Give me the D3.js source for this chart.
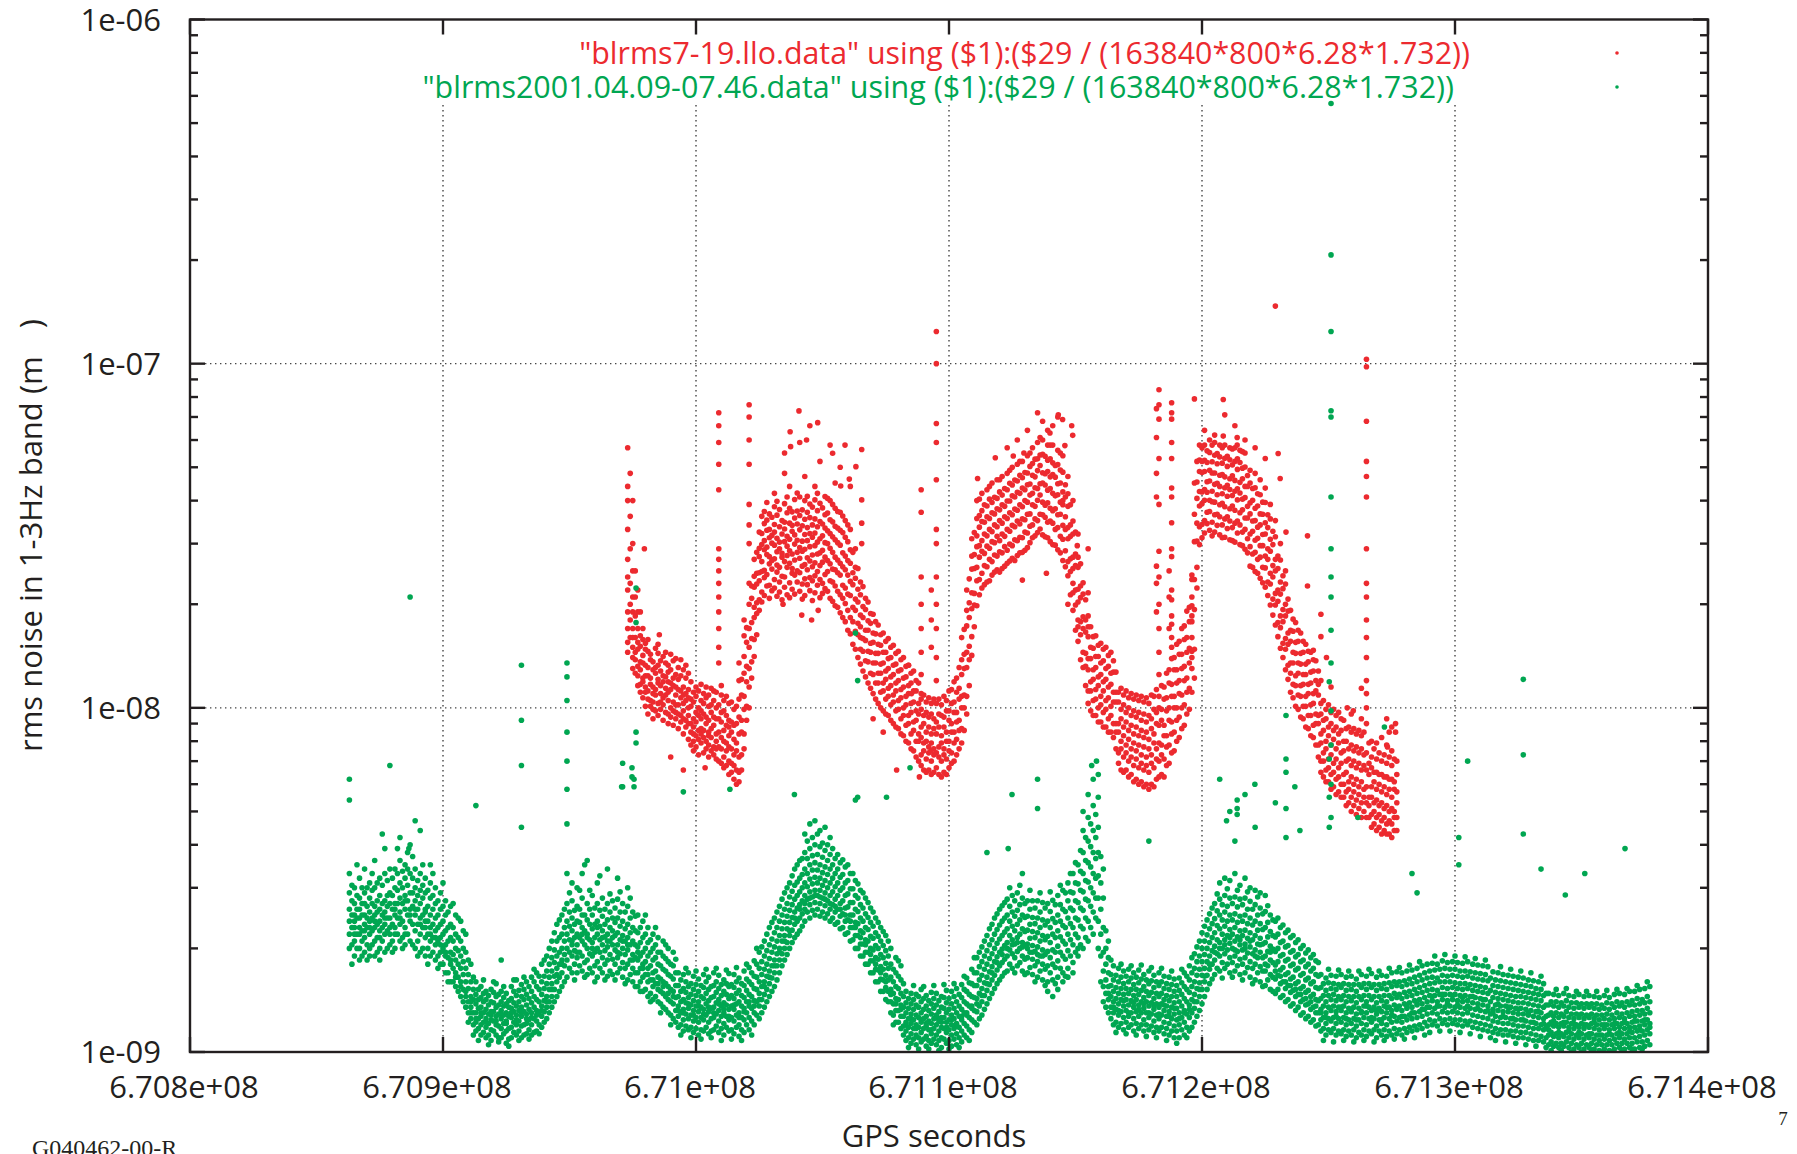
<!DOCTYPE html>
<html><head><meta charset="utf-8">
<script src="https://cdn.jsdelivr.net/npm/d3@7"></script>
<style>
html,body{margin:0;padding:0;background:#fff;}
svg{display:block;}
text{font-family:"Open Sans",sans-serif;fill:#231f20;}
</style></head><body>
<svg id="chart" width="1797" height="1154"></svg>
<script>
// ---------------- data ----------------
const xDomain = [670800000, 671400000];
const yDomain = [1e-9, 1e-6];
const xTickValues = [670800000, 670900000, 671000000, 671100000, 671200000, 671300000, 671400000];
const xTickLabels = ["6.708e+08", "6.709e+08", "6.71e+08", "6.711e+08", "6.712e+08", "6.713e+08", "6.714e+08"];
const xGridValues = [670900000, 671000000, 671100000, 671200000, 671300000];
const yTickValues = [1e-9, 1e-8, 1e-7, 1e-6];
const yTickLabels = ["1e-09", "1e-08", "1e-07", "1e-06"];
const yGridValues = [1e-8, 1e-7];
const seriesNames = [
  "\"blrms7-19.llo.data\" using ($1):($29 / (163840*800*6.28*1.732))",
  "\"blrms2001.04.09-07.46.data\" using ($1):($29 / (163840*800*6.28*1.732))"
];
const seriesColors = ["#ec2a2f", "#00a651"];
const xLabel = "GPS seconds";
const yLabel = "rms noise in 1-3Hz band (m";
const yLabelClose = ")";
const docId = "G040462-00-R";
const pageNo = "7";

// rows: [GPS time in kiloseconds, values in nanometres ...]
const redRows = [
[670973,57,44,40,33,27,24,22,19,17,15.5,14.5],
[670974,48,36,29,23,20,18,16],
[670975,40,30,25,21,19,17,16,15,14,13],
[670976,25,21,18.5,16,14.5,13.8,12.6],
[670977,22,19,17,15.5,14.8,13.2,12.4,11.6],
[670978,19,16.2,15.1,13.6,12.9,11.7,11.1],
[670979,17,15.8,14.2,13.5,12.2,11.9,10.7],
[670980,15.4,14.8,13.3,12.4,11.5,11.1,10.1],
[670981,9.6,10.6,11.2,12.4,13.1,14.6,15.8],
[670982,10.1,10.5,11.7,12.2,13.8,14.3],
[670983,9.3,9.9,11,11.5,12.9,13.6,10.4],
[670984,9.8,10.9,11.3,12.6,13.1,14.9],
[670985,9.5,10.3,11.8,12.1,13.3,14.4,15.3],
[670986,9.9,10.4,11,12.8,13.7,11.6],
[670987,9.2,10.2,10.7,11.9,12.4,14.1],
[670988,9.7,10.9,11.4,12.3,13.5,14.5],
[670989,9,9.6,10.5,11.1,12.7,13.3,11.9],
[670990,9.4,10,11.3,11.8,12.9,14.3],
[670991,8.9,9.8,10.4,11.6,12.2,13.7],
[670992,9.3,9.7,10.9,11.5,12.5,13.9,10.2],
[670993,8.7,9.6,10.2,11.3,12.1,13.1],
[670994,9.1,9.5,10.7,11.2,12.4,13.8],
[670995,8.4,9.3,9.8,10.9,11.5,12.9,10.3],
[670996,8.8,9.2,10.5,11,12.2,13.3],
[670997,8.1,9,9.5,10.7,11.3,12.6,10],
[670998,7.8,8.5,9,10.1,10.6,11.9],
[670999,7.5,8,8.8,9.3,10.4,11.1,8.4],
[671000,7.7,8.3,9.1,9.7,10.8,11.5],
[671001,7.3,8.1,8.6,9.5,10,11.2],
[671002,7.9,8.4,9.3,9.8,10.5,11.7,8.7],
[671003,7.4,8.2,8.6,9.6,10.3,11],
[671004,7.6,8,9,9.4,10.7,11.5],
[671005,7.2,7.8,8.5,9.2,10.1,10.9,8.3],
[671006,7.5,8.2,8.7,9.7,10.2,11.4],
[671007,7.3,7.7,8.9,9.4,10.5,11.2],
[671008,7.1,8,8.4,9.3,10,11.1,7.6],
[671009,72,66,59,51,43,29,27,25,23,21,19,17,15,13.5,7,7.7,8.5,9.3,10.2],
[671010,6.9,7.6,8.2,9.1,9.7,10.9,11.6],
[671011,6.7,7.2,8,8.6,9.8,10.5],
[671012,6.8,7.5,7.9,8.9,9.5,10.8],
[671013,6.4,7,7.7,8.3,9.2,10.3,8.8],
[671014,6.5,6.9,7.6,8.5,9.1,10.4],
[671015,6.2,6.8,7.3,8.1,8.9,9.9],
[671016,6,6.6,7.5,7.9,9,10.1],
[671017,6.1,6.5,7.2,8.4,9.4,10.6,12,13.5],
[671018,6.6,7.3,8.5,9.2,10.9,12.1],
[671019,7.6,8.4,9.9,10.8,12.6,14.1,16.2,18],
[671020,9.2,10.1,11.9,13.2,15.5,17.1],
[671021,76,70,60,51,39,34,30,23,20,17,15,13,11.5,10],
[671022,12.2,13.6,15.9,17.7,20.8,22.6],
[671023,14.1,15.8,18.3,19.6,22.4,24.1,27],
[671024,16.3,18.8,20.2,22.9,24.6,28.3],
[671025,19.2,20.6,23.4,24.7,27.5,29.1,32.4],
[671026,20.3,21.7,24.9,26.6,29.8,32.1,36],
[671027,21.2,23.9,25.1,28.8,30.6,34.3,37.2],
[671028,22.6,24.4,27.9,29.3,32.8,35.1,39.5],
[671029,20.8,22.7,26.2,27.5,31.2,33,36.6],
[671030,21.9,25.3,26.8,30.1,31.7,35.8],
[671031,22.3,23.6,27.1,29.7,32.4,34.1,38.4,42],
[671032,21.1,24.8,26,28.4,31.1,36.3,39.8],
[671033,21.7,23.2,25.6,29,30.3,33.6,37.7],
[671034,20.6,24.1,27.4,28.1,32,35],
[671035,22.4,24,26.6,30.4,33.1,34.6,39.2,55,48],
[671036,21.3,25.6,27.7,29.5,31.5,36.9,41],
[671037,20.9,23.1,26.3,28.6,30.9,34.4,38,44],
[671038,22.1,24.6,25.4,28,32.6,33.9,37.1],
[671039,21.4,24.3,26.9,29.9,31.8,35.6,40.3],
[671040,23.2,25,28.3,30.7,34.2,37.3,42.1],
[671041,21.8,24.7,27.2,29.2,32.9,36.2,41,59],
[671042,20.7,22.9,25.8,28.5,30.5,33.8,37.6],
[671043,21.2,23.7,26.1,28.9,31.9,35.3,40,47],
[671044,22.8,25.2,27.3,30.6,33.4,37,41.2],
[671045,21.9,23.9,26.7,29.4,32.1,35.7,39.1,66],
[671046,20.5,23.4,25.7,27.8,31.3,34,38.3],
[671047,21.6,24.2,26.4,29.6,32.2,35.4,40.2,44],
[671048,22.7,24.9,28,30.3,33.6,37.4,42],
[671049,20.9,23.6,25.9,28.2,31,34.8,39.3,52],
[671050,21.5,23,26.5,28.7,31.6,34.2,38.1],
[671051,22.2,24.4,27.4,30.2,33.3,36.4,41.1],
[671052,21.8,24.9,26.8,30,32.7,36.8,40.6],
[671053,20.8,23.4,26.2,29.1,32.1,35.2,40,58],
[671054,20.4,23.2,25.3,28.3,31.4,34.7,39],
[671055,19.8,22.6,25.2,27.4,30.8,33.7,38,45],
[671056,19.6,21.8,24.7,26.9,30.2,33.3,37.2],
[671057,18.9,21.3,24.3,26.3,29.7,32.8,37,50],
[671058,18.3,20.8,22.7,25.7,28.2,32.3,36.1],
[671059,17.8,20.1,22.3,25.2,27.6,31.3,35],
[671060,16.8,19.2,21.4,24.3,26.8,30.4,34],
[671061,16.4,18.3,21.2,23.3,26.3,28.8,33,44],
[671062,15.3,17.8,19.6,22.8,24.7,28.3],
[671063,14.8,16.7,19.2,20.7,23.8,25.6,29],
[671064,14,16.3,17.6,20.3,22.1,25.4],
[671065,13.4,14.8,17.2,18.6,21.3,23.2,16],
[671066,12.8,14.6,15.9,18.3,19.7,22.5],
[671067,12.3,13.7,15.7,16.8,19.3,20.8],
[671068,11.8,13.6,14.6,16.8,17.9,20.3],
[671069,11.4,12.6,14.5,15.4,17.6,18.8],
[671070,11,12.5,13.5,15.5,16.5,18.7],
[671071,10.6,11.8,13.5,14.4,16.4,17.8],
[671072,10.3,11.8,12.6,14.4,15.3,17.4],
[671073,10,11.1,12.6,13.4,15.2,16.3],
[671074,9.8,11.2,11.8,13.5,14.5,16.5],
[671075,9.6,10.6,12.1,12.8,14.5,15.6],
[671076,9.5,10.8,11.4,13,13.9,15.9],
[671077,9.2,10.2,11.6,12.3,14,15],
[671078,9,10.4,10.9,12.5,13.3,15.2],
[671079,8.8,9.8,11.2,11.8,13.4,14.4],
[671080,8.7,9.9,10.5,12,12.8,14.6],
[671081,8.4,9.3,10.7,11.3,12.9,13.8],
[671082,8.3,9.5,10,11.5,12.2,14],
[671083,8,8.9,10.2,10.8,12.3,13.2],
[671084,7.9,9,9.5,11,11.6,13.3],
[671085,7.6,8.4,9.7,10.3,11.8,12.6],
[671086,7.5,8.6,9.1,10.4,11.2,12.8],
[671087,7.2,8,9.2,9.8,11.2,12],
[671088,7,8,8.4,9.6,10.3,11.8],
[671089,6.8,7.3,8.2,8.8,9.9,10.6,43,37,24,20,17,14.5,12.5,11],
[671090,6.6,7.5,7.9,9,9.5,10.9],
[671091,6.5,7.1,8,8.5,9.7,10.4],
[671092,6.6,7.4,7.7,8.8,9.4,10.7],
[671093,6.4,7,7.9,8.4,9.6,10.3,22,18,15],
[671094,6.5,7.3,7.6,8.7,9.3,10.6],
[671095,124,100,67,59,46,33,30,24,20,17,14,12,6.7,7.4,8.4,9.1,10.3],
[671096,6.4,7.2,7.7,8.8,9.6,10.6],
[671097,6.3,7,7.9,8.3,9.5,10.2],
[671098,6.5,7.3,7.6,8.8,9.4,10.8],
[671099,6.4,7.1,8,8.5,9.8,10.5],
[671100,6.7,7.5,8,9.2,9.8,11.2],
[671101,6.9,7.4,8.5,9,10.3,11.3],
[671102,7,7.9,8.5,9.7,10.4,11.9],
[671103,7.3,8.1,9.1,9.7,11.1,12.2],
[671104,7.6,8.6,9.2,10.6,11.4,13.1],
[671105,7.9,8.7,10,10.8,12.5,13.8,16],
[671106,8.6,10,10.9,13,14.3,16.9],
[671107,9.6,10.8,13.1,14.5,17.3,19.2,22],
[671108,11.6,13.8,15.1,18.3,20.2,23.7],
[671109,14.2,16.1,19.4,21.6,25.3,27.6,31],
[671110,17.2,19.9,21.5,25.4,27.9,32.3],
[671111,19.8,23.4,25.6,29.4,31.6,35.5,40],
[671112,21.3,23.6,27.4,29.6,33.5,36.2,40.4],
[671113,22.3,24.6,28.5,30.6,34.8,37.4,42],
[671114,22.8,25.9,28.1,32,34.6,38.9],
[671115,23.2,25.7,29.5,31.6,35.9,38.6,43],
[671116,23.4,27,29.1,33,35.5,40.4,44],
[671117,24.3,26.6,30.4,32.5,36.9,39.5,45],
[671118,24.8,27.8,30.2,34,36.6,40.9],
[671119,25.2,27.6,31.5,33.6,37.9,40.6,46],
[671120,24.8,28.4,30.6,35,37.6,42.4,46],
[671121,25.4,28.2,32,34.4,38.9,41.5,47],
[671122,25.8,29.4,31.5,35.9,38.5,43.4],
[671123,26.3,28.7,33,35.5,39.9,43,48,57],
[671124,26.7,29.9,32.6,36.9,39.9,44.9,49],
[671125,27.2,29.6,33.9,36.4,41.3,44.4,50],
[671126,26.8,30.8,33.6,37.8,41,45.9],
[671127,27.7,30.6,34.9,37.5,42.3,45.6,51,60],
[671128,28.2,31.3,34.2,38.9,42,47.4,52],
[671129,28.3,31.2,35.4,38.4,43.5,46.6,52],
[671130,28.7,32.4,35.2,40,43,48.3],
[671131,29.2,32.2,36.5,39.6,44.5,48.1,54,64],
[671132,30.2,33.7,36.6,41.5,44.7,50.3,55],
[671133,31.2,34,38.9,42,47.4,51.3,57],
[671134,31.6,35.4,38.5,43.6,46.9,52.8],
[671135,32.3,35,40.1,43.4,48.9,52.9,59,72],
[671136,33.1,36.5,41.5,44.8,50.6,54.3,61],
[671137,31.8,36.4,39.6,45,48.2,54.5,60,68],
[671138,31.4,35.8,38.8,44.4,47.9,53.8],
[671139,31.2,34.6,39.4,42.9,48.6,52.4,58,64],
[671140,30.4,34.9,38,43.4,46.9,52.9,58],
[671141,29.8,34.4,37.4,42,47.6,51.5,58,66],
[671142,29.7,33,37.9,41.3,46.8,50.6],
[671143,28.8,33.4,36.4,41.6,44.8,50.9,56,70],
[671144,28.2,31.5,36.5,39.6,45,49.1,55],
[671145,26.8,30.9,33.9,38.9,42.4,48.4,54,40],
[671146,25.7,28.6,33,35.9,41,44.5],
[671147,24.2,26.6,31,33.4,38.5,41.9,47,20],
[671148,21.3,24.9,27.1,31.5,34,38.9],
[671149,19.2,21.6,25.4,27.4,32,34.9,40,23],
[671150,16.8,19.9,22,25.9,28,32.4],
[671151,15.6,17.2,20.3,22.1,25.6,27.4,32,18],
[671152,13.8,16.3,17.8,20.9,22.6,26.2],
[671153,13.1,14.5,17,18.4,21.4,23.1],
[671154,11.6,13.2,14.4,16.6,18,20.6],
[671155,10.3,11.2,12.9,13.9,16.1,17.2],
[671156,9.8,11.2,11.9,13.9,15,17.2],
[671157,9.5,10.5,12.1,12.9,14.9,16.1],
[671158,9.5,10.6,11.3,13.1,14.1,16.2],
[671159,9.1,10,11.6,12.3,14.1,15.2],
[671160,9.1,10.2,10.8,12.5,13.5,15.4],
[671161,8.8,9.7,11.2,11.9,13.7,14.8],
[671162,8.8,9.9,10.5,12.1,13,15],
[671163,8.5,9.3,10.7,11.5,13.2,14.2],
[671164,8.5,9.5,10.1,11.7,12.6,14.5],
[671165,8.2,9,10.4,11.1,12.7,13.7],
[671166,7.6,8.5,9,10.4,11.1,12.7],
[671167,6.9,7.4,8.5,9,10.4,11.1],
[671168,6.6,7.6,8,9.3,9.9,11.4],
[671169,6.5,7.2,8.3,8.8,10.2,10.9],
[671170,6.6,7.4,7.8,9.1,9.7,11.2],
[671171,6.3,7,8.1,8.6,10,10.7],
[671172,6.4,7.2,7.6,8.9,9.5,11],
[671173,6.1,6.8,7.9,8.4,9.8,10.6],
[671174,6.2,7.1,7.5,8.8,9.4,10.9],
[671175,6,6.7,7.8,8.3,9.7,10.5],
[671176,6.1,6.9,7.3,8.6,9.2,10.8],
[671177,5.9,6.6,7.7,8.2,9.6,10.4],
[671178,6,6.8,7.2,8.5,9.1,10.7],
[671179,5.8,6.5,7.6,8.1,9.5,10.3],
[671180,6,6.9,7.3,8.7,9.3,10.9],
[671181,5.9,6.7,7.9,8.4,9.9,10.8],
[671182,6.2,7.1,7.6,9,9.7,11.3,74,61,48,41,25.8,23,19],
[671183,84,76,69,53,39,28.5,24,20,17,14.5,12.5,10.8,6.3,7,7.9,8.9,10],
[671184,6.4,7.3,7.8,9.2,9.9,11.6],
[671185,6.3,7.1,8.3,8.9,10.6,11.5],
[671186,6.8,7.7,8.3,9.8,10.7,12.6],
[671187,6.9,7.8,9.2,10,11.8,12.9,17,21,25],
[671188,7.4,8.4,9.1,10.8,11.7,13.9,77,72,69,59,53,43.5,41,34.5,29,27.5,22,20.6,18.5,17.5,16,15],
[671189,7.5,8.5,10,10.8,12.9,14],
[671190,8,9.2,10,11.8,12.9,15.3],
[671191,8.2,9.4,11,12,14.3,15.6],
[671192,8.7,10,10.9,13,14.3,17],
[671193,8.9,10.2,12,13.2,15.8,17.3],
[671194,9.6,11.1,12.2,14.5,16,19.1],
[671195,9.9,11.4,13.5,14.9,17.8,19.6],
[671196,11.1,13,14.6,17.8,19.8,24.3,23.6,21,18.5,16,14],
[671197,12.2,14.8,19.3,23.6,30.4,36.5,45,79],
[671198,22.3,25.6,30.5,34.4,40.6,45.3,52],
[671199,29.8,33.6,38.6,42.5,48.6,52.5,58],
[671200,31.2,34.1,39.2,42.4,48.3,52,57],
[671201,32.2,35,40.1,43.1,48.6,52.4,58,64],
[671202,34.3,37,42.3,45.4,51.6,55.8],
[671203,32.8,37.2,40.1,45.6,49,55.2,60],
[671204,31.6,34.6,39.7,42.6,48.1,51.9,58],
[671205,32.4,36.4,39.6,44.6,48.1,54.2,59,62],
[671206,33.9,36.5,41.6,44.9,51.2,54.8],
[671207,31.8,35.9,38.9,44,47.4,53.6,58],
[671208,31.2,34,39.3,41.9,47.6,51.4,57],
[671209,31.3,35.4,38.4,43.6,46.9,53.1,58,71],
[671210,33.2,35.9,41.2,44.3,50.3,53.8],
[671211,30.8,34.9,37.9,43.1,46.3,52.6,57],
[671212,30.6,33.4,38.6,41.4,47.2,50.8,56.5],
[671213,30.3,34.4,37.5,42.6,45.8,52,57,66],
[671214,32.2,34.9,40.2,43.3,49.3,52.9],
[671215,29.8,34,36.9,42.1,45.2,51.6,56],
[671216,29.6,32.4,37.6,40.4,46.3,49.7,55.5],
[671217,28.9,33,35.6,40.8,44,50.1,55,60],
[671218,28.2,31,35.6,38.5,44,47.3],
[671219,25.8,29.4,32,36.6,39.4,45,49],
[671220,25.6,28,32.6,34.9,40.1,43.4],
[671221,24.9,28.3,30.7,35,38,43.6,48,57],
[671222,24.6,27,31.1,33.5,38.6,41.9],
[671223,23.8,27.4,29.6,34,36.6,41.6,46],
[671224,23.1,25.6,29.6,31.9,36.5,39.6],
[671225,22.4,25.5,27.6,32,34.5,39.5,43.5,53],
[671226,21.2,23.2,27,29,33.4,36.4],
[671227,19.9,22.9,24.6,28.5,30.9,35.4,39],
[671228,18.6,20.7,24,25.9,29.8,32.6],
[671229,17.4,19.9,21.5,25,27,31.4,35,147],
[671230,16.1,17.7,20.4,22,25.4,27.6],
[671231,14.9,17.1,18.5,21.4,23.2,26.9,30],
[671232,14,15.4,17.8,19.3,22.2,24.2],
[671233,12.9,14.8,15.9,18.5,20,22.9,25],
[671234,12.1,13.3,15.3,16.5,19.1,20.7],
[671235,11.1,12.6,13.5,15.6,16.8,19.2],
[671236,10.7,11.7,13.5,14.5,16.7,18.1],
[671237,10.1,11.6,12.4,14.4,15.5,17.7],
[671238,9.9,10.9,12.6,13.5,15.6,16.8],
[671239,9.4,10.8,11.6,13.4,14.4,16.5],
[671240,9.3,10.1,11.7,12.5,14.5,15.6],
[671241,8.8,10.1,10.8,12.5,13.4,15.3],
[671242,8.7,9.5,11,11.7,13.6,14.6],
[671243,8.3,9.5,10.2,11.8,12.7,14.5],
[671244,8.2,8.9,10.3,11,12.8,13.8],
[671245,7.8,9,9.6,11.2,12,13.7],
[671246,7.2,7.8,9,9.5,10.9,11.7],
[671247,6.5,7,7.9,8.4,9.6,10.3,12],
[671248,6.3,7,7.4,8.6,9.2,10.5],
[671249,6.1,6.6,7.6,8,9.3,9.9],
[671250,6.1,6.7,7.1,8.3,8.8,10.2],
[671251,5.8,6.4,7.3,7.8,9,9.7,11.5],
[671252,5.9,6.5,6.9,8.1,8.6,9.9],
[671253,5.6,6.2,7.1,7.6,8.8,9.5],
[671254,5.7,6.3,6.7,7.9,8.4,9.7],
[671255,5.5,6,6.9,7.4,8.6,9.3],
[671256,5.5,6,6.4,7.5,8,9.2],
[671257,5.2,5.7,6.5,7,8,8.7],
[671258,5.3,5.8,6.1,7.1,7.6,8.8],
[671259,5,5.5,6.3,6.8,7.8,8.5,9.6],
[671260,5.2,5.7,6,7,7.5,8.7],
[671261,4.9,5.4,6.2,6.7,7.7,8.4],
[671262,5.1,5.6,5.9,6.9,7.4,8.6],
[671263,4.8,5.3,6.1,6.6,7.6,8.3,9.3],
[671264,5,5.5,5.8,6.8,7.3,8.5],
[671265,103,98,68,52,47,41,29,23,21,18,16,14,12,10,9,4.8,5.3,5.9,6.6,7.4],
[671266,4.8,5.2,5.5,6.4,6.9,7.9],
[671267,4.5,4.9,5.5,5.9,6.7,7.2,8],
[671268,4.6,5,5.3,6.1,6.5,7.6],
[671269,4.4,4.8,5.4,5.8,6.5,7.1,7.9],
[671270,4.5,4.9,5.2,6,6.4,7.4],
[671271,4.3,4.7,5.3,5.7,6.4,7,8.2],
[671272,4.4,4.8,5.1,5.9,6.3,7.3],
[671273,4.3,4.6,5.2,5.6,6.3,6.9,7.8,9.3],
[671274,4.3,4.7,5,5.8,6.2,7.2,8.5],
[671275,4.2,4.6,5.1,5.5,6.2,6.8,7.5,8.8],
[671276,4.4,4.8,5,5.8,6.1,7.1],
[671277,4.4,4.8,5.3,5.7,6.4,7]
];
// isolated red points: [kiloseconds, nm]
const redScatter = [
[671040.7,72.9],[671048.1,67.4],[671037.2,63.4],[671037.4,57.4],[671043.7,60],[671054,54.9],[671058.9,58],
[671065.5,56.3],[671063.2,50.2],[671060.6,46.2],[671057.2,44.1],[671065.5,40.2],[671065.5,34.4],[671065.5,30],
[671045.7,18],[671034.4,20],[671041.8,18.6],[671048.3,19.2],[670985.5,16.3],[670979.6,29],[670990,7.2],
[670995,6.6],[671003.6,6.7],[671079.3,6.6],[671084,13.3],[671085.2,11],[671088.3,6.3],[671092.9,7.5],
[671070,9.3],[671074,8.5],[671143.2,71],[671144.9,68.8],[671148.5,66],[671148.9,61.9],[671145.8,57.8],
[671139.9,62.9],[671129.6,55],[671118.3,53.3],[671111.3,46.4],[671125.4,53.9],[671155,29],[671155,21.6],
[671155,18.5],[671138.5,24.6],[671129,23.5],[671150.7,29.6],[671208.4,78.7],[671208.4,61.6],[671213.9,61],
[671213.9,58],[671230.1,54.8],[671230.9,46.4],[671233.2,32.4],[671241.7,31.6],[671241.7,22.6],[671247,18.7],
[671247,16.1],[671244,14.7],[671249.2,14],[671246,12.8],[671257.4,10],[671259.8,9.8],[671263,11.4],
[671265,11],[671276.5,9],[671276.5,8.5],[671273.3,7.7]
];

const greenRowsOdd = [
[670863,2,2.2,2.4,2.6,2.9,3.3,6.2,5.4],
[670865,1.9,2.1,2.3,2.5,2.7,3,2.2,2.4],
[670867,2,2.2,2.3,2.6,2.8,3.2,1.85,2.45],
[670869,1.95,2.15,2.35,2.5,2.7,2.9,3.4,2.25],
[670871,2,2.2,2.4,2.55,2.8,3.1,1.9,2.3],
[670873,1.9,2.1,2.3,2.5,2.65,3,3.6,2.4],
[670875,2,2.25,2.4,2.6,2.85,3.2,2.15,1.85],
[670877,1.95,2.2,2.35,2.55,2.75,3.3,2.45,3.9],
[670879,2.05,2.3,2.45,2.7,2.9,3.4,2.2,6.8],
[670881,2,2.3,2.5,2.7,3,3.4,2.2,2.6],
[670883,2.1,2.35,2.55,2.8,3.1,3.6,4.2,2.45],
[670885,2.05,2.3,2.6,2.85,3.2,3.5,2.2,2.75],
[670887,2.1,2.4,2.6,2.9,3.3,4,21,2.5],
[670889,2,2.25,2.5,2.75,3,3.4,4.7,2.6],
[670891,1.95,2.2,2.45,2.7,2.95,3.3,2.35,4.4],
[670893,1.9,2.15,2.4,2.6,2.9,3.2,2.3,2.55],
[670895,1.9,2.1,2.3,2.5,2.8,3.1,2.2,3.5],
[670897,1.85,2.05,2.25,2.45,2.7,3,2.15],
[670899,1.8,1.95,2.15,2.35,2.6,2.9,2.05],
[670901,1.7,1.9,2.05,2.25,2.5,2.75,1.95],
[670903,1.6,1.8,1.95,2.15,2.35,2.65,1.85],
[670905,1.55,1.7,1.85,2,2.2,2.5,1.65],
[670907,1.45,1.6,1.75,1.9,2.1,2.4,1.55],
[670909,1.35,1.45,1.6,1.75,1.95,2.2,1.5],
[670911,1.25,1.35,1.45,1.6,1.8,1.4,1.3],
[670913,1.15,1.22,1.3,1.38,1.47,1.6,5.2,1.25],
[670915,1.12,1.2,1.27,1.35,1.44,1.55,1.3],
[670917,1.1,1.18,1.25,1.33,1.42,1.5,1.22],
[670919,1.08,1.16,1.24,1.31,1.4,1.52,1.28],
[670921,1.12,1.2,1.27,1.35,1.45,1.58,1.23],
[670923,1.1,1.17,1.25,1.32,1.4,1.5,1.85,1.29],
[670925,1.06,1.15,1.23,1.3,1.38,1.48,1.21],
[670927,1.1,1.18,1.26,1.34,1.43,1.55,1.3],
[670929,1.12,1.2,1.28,1.36,1.46,1.62,1.24],
[670931,1.1,1.19,1.27,1.35,1.45,1.57,13.3,9.2,6.8,4.5,1.3],
[670933,1.13,1.21,1.29,1.37,1.47,1.6,1.25],
[670935,1.12,1.2,1.3,1.39,1.5,1.65,1.26],
[670937,1.15,1.23,1.32,1.42,1.55,1.7,1.28],
[670939,1.18,1.27,1.36,1.47,1.6,1.8,1.32],
[670941,1.25,1.35,1.45,1.58,1.72,1.9,1.4],
[670943,1.35,1.45,1.58,1.72,1.88,2.1,1.52],
[670945,1.45,1.6,1.75,1.9,2.1,2.35,1.68],
[670947,1.55,1.7,1.85,2,2.2,2.5,1.8],
[670949,1.65,1.85,2,2.2,2.4,2.7,13.5,12.3,10.5,8.5,7,5.8,4.6,3.3],
[670951,1.7,1.9,2.05,2.25,2.45,2.75,3.1,2.1],
[670953,1.7,1.88,2.05,2.2,2.4,2.65,3,1.95],
[670955,1.72,1.9,2.1,2.3,2.5,2.8,3.3,2.2],
[670957,1.68,1.85,2,2.2,2.42,2.7,2.15,3.6],
[670959,1.7,1.9,2.08,2.28,2.5,2.85,2],
[670961,1.65,1.83,2,2.2,2.4,2.7,3.1,2.3],
[670963,1.7,1.88,2.05,2.25,2.48,2.8,2.15],
[670965,1.66,1.85,2.02,2.2,2.42,2.7,3.4,2.1],
[670967,1.68,1.86,2.05,2.25,2.45,2.75,2.15],
[670969,1.7,1.88,2.05,2.22,2.45,2.78,3.2,1.95],
[670971,1.65,1.82,2,2.18,2.4,2.7,6.9,5.9,2.1],
[670973,1.62,1.8,1.98,2.15,2.35,2.65,3,2.05],
[670975,1.6,1.75,1.92,2.1,2.3,2.55,1.85],
[670977,1.55,1.7,1.85,2.02,2.22,2.5,1.95],
[670979,1.5,1.65,1.8,1.95,2.15,2.4,1.75],
[670981,1.45,1.6,1.75,1.9,2.08,2.3,1.68],
[670983,1.42,1.55,1.7,1.85,2,2.2,1.62],
[670985,1.4,1.52,1.65,1.8,1.95,2.15,1.58],
[670987,1.35,1.48,1.6,1.74,1.9,2.1,1.55],
[670989,1.3,1.42,1.55,1.68,1.83,2,1.48],
[670991,1.25,1.38,1.5,1.63,1.78,1.95,1.45],
[670993,1.18,1.27,1.36,1.45,1.56,1.7,1.32],
[670995,1.15,1.24,1.33,1.42,1.53,1.68,5.7,1.3],
[670997,1.16,1.25,1.34,1.44,1.55,1.7,1.38],
[670999,1.14,1.23,1.32,1.41,1.52,1.66,1.28],
[671001,1.12,1.22,1.31,1.4,1.5,1.63,1.36],
[671003,1.15,1.24,1.33,1.43,1.54,1.68,1.29],
[671005,1.13,1.22,1.31,1.41,1.52,1.65,1.35],
[671007,1.16,1.26,1.35,1.45,1.56,1.7,1.3],
[671009,1.14,1.23,1.32,1.42,1.53,1.67,1.38],
[671011,1.12,1.21,1.3,1.39,1.5,1.62,1.33],
[671013,1.15,1.24,1.33,1.43,1.55,1.69,1.27],
[671015,1.13,1.23,1.33,1.43,1.54,1.68,1.37],
[671017,1.11,1.2,1.3,1.4,1.51,1.64,1.26],
[671019,1.14,1.24,1.34,1.44,1.56,1.72,1.31],
[671021,1.16,1.26,1.36,1.47,1.6,1.76,1.4],
[671023,1.2,1.3,1.41,1.53,1.66,1.84,1.36],
[671025,1.25,1.36,1.48,1.6,1.75,1.95,1.42],
[671027,1.35,1.47,1.6,1.74,1.9,2.1,1.55],
[671029,1.45,1.58,1.72,1.87,2.05,2.3,1.65],
[671031,1.55,1.7,1.85,2.02,2.22,2.45,1.78],
[671033,1.7,1.85,2,2.18,2.4,2.65,1.95],
[671035,1.85,2,2.18,2.38,2.6,2.9,2.1],
[671037,2,2.18,2.38,2.58,2.82,3.1,2.25],
[671039,2.15,2.35,2.55,2.78,3.05,3.4,2.45],
[671041,2.25,2.45,2.68,2.92,3.2,3.6,2.6],
[671043,2.4,2.6,2.85,3.1,3.4,3.8,2.7,4.3],
[671045,2.45,2.68,2.92,3.18,3.5,3.9,2.8,4.6],
[671047,2.5,2.72,2.95,3.22,3.55,4,2.85,4.7],
[671049,2.48,2.7,2.95,3.2,3.5,3.95,2.82,4.4],
[671051,2.45,2.66,2.9,3.15,3.45,3.85,2.78,4.5],
[671053,2.4,2.6,2.85,3.1,3.4,3.75,2.7,4.2],
[671055,2.35,2.55,2.78,3.02,3.3,3.65,2.65],
[671057,2.28,2.48,2.7,2.95,3.22,3.55,2.6],
[671059,2.2,2.4,2.62,2.85,3.1,3.45,2.5],
[671061,2.1,2.3,2.5,2.72,2.98,3.3,2.4],
[671063,2,2.18,2.38,2.6,2.85,3.15,16.5,5.4,2.3],
[671065,1.9,2.06,2.25,2.45,2.68,2.95,2.15],
[671067,1.8,1.95,2.12,2.3,2.52,2.8,2.05],
[671069,1.7,1.84,2,2.17,2.38,2.62,1.92],
[671071,1.6,1.74,1.88,2.04,2.22,2.45,1.8],
[671073,1.5,1.63,1.77,1.92,2.1,2.3,1.7],
[671075,1.42,1.54,1.67,1.81,1.97,2.18,1.6],
[671077,1.3,1.4,1.52,1.65,1.8,2,1.47],
[671079,1.22,1.32,1.43,1.55,1.7,1.88,1.38],
[671081,1.17,1.27,1.37,1.48,1.62,1.78,1.33],
[671083,1.08,1.15,1.22,1.3,1.39,1.5,1.2],
[671085,1.06,1.13,1.21,1.29,1.38,1.48,1.25],
[671087,1.05,1.12,1.2,1.28,1.37,1.47,1.17],
[671089,1.07,1.14,1.22,1.3,1.4,1.52,1.24],
[671091,1.04,1.11,1.19,1.27,1.36,1.46,1.21],
[671093,1.06,1.13,1.21,1.29,1.38,1.49,1.16],
[671095,1.05,1.12,1.2,1.28,1.37,1.48,1.26],
[671097,1.03,1.1,1.18,1.26,1.35,1.45,1.22],
[671099,1.06,1.14,1.22,1.3,1.39,1.51,1.18],
[671101,1.04,1.12,1.2,1.28,1.38,1.5,1.24],
[671103,1.05,1.13,1.21,1.3,1.4,1.53,1.19],
[671105,1.07,1.15,1.24,1.33,1.44,1.57,1.27],
[671107,1.1,1.19,1.28,1.38,1.5,1.64,1.3],
[671109,1.14,1.24,1.34,1.45,1.58,1.74,1.36],
[671111,1.2,1.31,1.43,1.56,1.7,1.88,1.38],
[671113,1.28,1.4,1.53,1.67,1.83,2.02,1.46],
[671115,1.38,1.51,1.65,1.8,1.97,2.18,3.8,1.58],
[671117,1.48,1.62,1.77,1.93,2.12,2.35,1.7],
[671119,1.58,1.73,1.89,2.07,2.27,2.52,1.82],
[671121,1.66,1.82,1.99,2.18,2.4,2.66,1.92],
[671123,1.72,1.9,2.08,2.28,2.5,2.78,2],
[671125,1.75,1.93,2.12,2.32,2.55,2.85,2.05],
[671127,1.78,1.96,2.15,2.35,2.58,2.9,2.08],
[671129,1.72,1.9,2.08,2.28,2.5,2.8,2.02,3.3],
[671131,1.7,1.88,2.06,2.26,2.48,2.75,2],
[671133,1.68,1.86,2.04,2.24,2.46,2.75,1.95],
[671135,1.65,1.83,2.02,2.22,2.45,2.75,1.92,6.2,5.1],
[671137,1.62,1.8,1.98,2.18,2.42,2.72,1.9],
[671139,1.6,1.78,1.96,2.17,2.4,2.7,1.5],
[671141,1.62,1.8,1.98,2.2,2.44,2.76,1.45],
[671143,1.65,1.84,2.03,2.25,2.5,2.85,1.52],
[671145,1.7,1.9,2.1,2.33,2.6,2.95,1.6],
[671147,1.75,1.97,2.2,2.45,2.75,3.1,1.65],
[671149,1.82,2.05,2.3,2.58,2.9,3.3,1.7],
[671151,1.9,2.15,2.42,2.72,3.08,3.5,2],
[671153,2,2.28,2.58,2.92,3.3,3.8,4.4],
[671155,2.1,2.4,2.75,3.12,3.55,4.1,4.8,5.6],
[671157,2.2,2.55,2.9,3.3,3.8,4.4,5.2,6.2],
[671159,2,2.4,2.8,3.25,3.8,4.5,5.5,6.4],
[671161,1.4,1.55,1.72,1.95,2.3,2.8,3.4],
[671163,1.3,1.42,1.55,1.7,1.88,2.1,1.48],
[671165,1.2,1.3,1.4,1.5,1.62,1.78,1.35],
[671167,1.18,1.28,1.38,1.48,1.6,1.75,1.32],
[671169,1.16,1.26,1.36,1.47,1.58,1.72,1.41],
[671171,1.18,1.27,1.37,1.48,1.6,1.74,1.3],
[671173,1.15,1.25,1.35,1.46,1.57,1.7,1.39],
[671175,1.17,1.27,1.37,1.47,1.59,1.73,1.33],
[671177,1.15,1.24,1.34,1.44,1.55,1.68,1.38],
[671179,1.16,1.26,1.36,1.46,1.58,1.72,4.1,1.3],
[671181,1.14,1.23,1.33,1.43,1.54,1.67,1.36],
[671183,1.15,1.25,1.35,1.45,1.56,1.7,1.29],
[671185,1.13,1.22,1.32,1.42,1.53,1.66,1.37],
[671187,1.12,1.21,1.31,1.41,1.52,1.65,1.27],
[671189,1.1,1.19,1.29,1.39,1.5,1.63,1.34],
[671191,1.1,1.2,1.3,1.4,1.51,1.64,1.25],
[671193,1.12,1.22,1.32,1.43,1.55,1.7,1.3],
[671195,1.15,1.26,1.37,1.49,1.62,1.78,1.33],
[671197,1.22,1.34,1.47,1.6,1.75,1.93,1.4],
[671199,1.32,1.45,1.59,1.74,1.9,2.1,1.52],
[671201,1.45,1.6,1.75,1.92,2.1,2.32,1.66],
[671203,1.58,1.74,1.9,2.08,2.28,2.52,1.8],
[671205,1.68,1.85,2.03,2.22,2.44,2.7,1.95],
[671207,1.72,1.9,2.08,2.28,2.5,2.78,3.1,2,6.2],
[671209,1.75,1.93,2.12,2.32,2.55,2.85,3.2,2.05],
[671211,1.7,1.88,2.07,2.27,2.5,2.8,3.15,2.15,5],
[671213,1.72,1.9,2.1,2.3,2.52,2.82,3.3,1.98,4.1],
[671215,1.68,1.86,2.05,2.25,2.48,2.78,3.05,2.12],
[671217,1.7,1.88,2.06,2.26,2.5,2.8,3.2,2,5.6],
[671219,1.65,1.83,2.02,2.22,2.45,2.74,3,2.1],
[671221,1.62,1.8,1.98,2.18,2.4,2.68,2.95,1.9],
[671223,1.6,1.77,1.95,2.14,2.36,2.62,2.9,2.05],
[671225,1.56,1.72,1.9,2.08,2.3,2.56,2.85,1.8],
[671227,1.52,1.68,1.85,2.03,2.24,2.5,1.95],
[671229,1.48,1.63,1.79,1.96,2.16,2.4,1.72,5.3],
[671231,1.44,1.58,1.73,1.9,2.08,2.3,1.66],
[671233,1.4,1.53,1.68,1.84,2.02,2.22,1.6],
[671235,1.36,1.49,1.63,1.78,1.95,2.15,1.56],
[671237,1.32,1.45,1.58,1.73,1.89,2.08,1.52],
[671239,1.28,1.4,1.53,1.67,1.83,2,1.47],
[671241,1.25,1.37,1.49,1.62,1.77,1.94,1.43],
[671243,1.22,1.33,1.45,1.58,1.72,1.88,1.4],
[671245,1.19,1.3,1.42,1.54,1.68,1.84,1.36],
[671247,1.15,1.24,1.33,1.43,1.54,1.68,1.3],
[671249,1.12,1.21,1.3,1.4,1.51,1.64,1.26],
[671251,1.14,1.23,1.32,1.42,1.53,1.67,570,207,124,73,70,41,29,24,21,16.8,13.5,9.8,7.8,6,4.8],
[671253,1.12,1.21,1.31,1.41,1.52,1.66,1.27],
[671255,1.13,1.22,1.32,1.42,1.54,1.68,1.35],
[671257,1.11,1.2,1.3,1.4,1.51,1.65,1.25],
[671259,1.12,1.21,1.31,1.41,1.52,1.66,1.33],
[671261,1.1,1.19,1.29,1.39,1.5,1.63,1.24],
[671263,1.12,1.21,1.31,1.42,1.54,1.68,1.3],
[671265,1.11,1.2,1.3,1.4,1.52,1.66,1.36],
[671267,1.13,1.22,1.32,1.42,1.54,1.69,1.26],
[671269,1.1,1.19,1.29,1.39,1.51,1.65,1.32],
[671271,1.12,1.21,1.31,1.41,1.53,1.67,1.24],
[671273,1.11,1.2,1.3,1.4,1.52,1.66,1.35],
[671275,1.12,1.22,1.32,1.43,1.55,1.7,1.28],
[671277,1.13,1.23,1.33,1.44,1.56,1.71,1.34],
[671279,1.12,1.22,1.32,1.43,1.55,1.7,1.27],
[671281,1.14,1.24,1.34,1.45,1.57,1.72,1.36],
[671283,1.15,1.25,1.35,1.46,1.58,1.73,3.3,1.3],
[671285,1.16,1.26,1.37,1.48,1.6,1.75,2.9,1.38],
[671287,1.17,1.27,1.38,1.49,1.62,1.78,1.33],
[671289,1.19,1.29,1.4,1.51,1.64,1.8,1.35],
[671291,1.2,1.3,1.41,1.52,1.65,1.81,1.45],
[671293,1.19,1.29,1.4,1.51,1.64,1.8,1.36],
[671295,1.21,1.31,1.42,1.54,1.67,1.84,1.47],
[671297,1.2,1.3,1.41,1.53,1.66,1.82,1.38],
[671299,1.21,1.31,1.42,1.54,1.67,1.83,1.46],
[671301,1.2,1.3,1.41,1.53,1.66,1.82,1.37],
[671303,1.19,1.29,1.4,1.52,1.65,1.81,1.44],
[671305,1.2,1.3,1.41,1.53,1.66,1.83,7,1.36],
[671307,1.18,1.28,1.39,1.51,1.64,1.8,1.45],
[671309,1.17,1.27,1.38,1.5,1.63,1.79,1.34],
[671311,1.16,1.26,1.37,1.49,1.62,1.78,1.42],
[671313,1.15,1.25,1.36,1.48,1.61,1.77,1.32],
[671315,1.14,1.23,1.33,1.44,1.56,1.71,1.3],
[671317,1.13,1.22,1.32,1.43,1.55,1.7,1.38],
[671319,1.12,1.21,1.31,1.42,1.54,1.68,1.27],
[671321,1.12,1.21,1.31,1.41,1.53,1.67,1.35],
[671323,1.11,1.2,1.3,1.4,1.52,1.66,1.25],
[671325,1.1,1.19,1.29,1.39,1.51,1.65,1.33],
[671327,1.1,1.19,1.29,1.39,1.5,1.64,12.1,7.3,4.3,1.24],
[671329,1.09,1.18,1.28,1.38,1.49,1.62,1.3],
[671331,1.08,1.17,1.27,1.37,1.48,1.61,1.22],
[671333,1.08,1.17,1.26,1.36,1.47,1.6,1.31],
[671335,1.07,1.16,1.25,1.35,1.46,1.58,1.21],
[671337,1.05,1.12,1.2,1.28,1.37,1.48,1.16],
[671339,1.04,1.11,1.19,1.27,1.36,1.47,1.23],
[671341,1.03,1.1,1.18,1.26,1.35,1.46,1.14],
[671343,1.04,1.11,1.19,1.27,1.36,1.48,1.22],
[671345,1.03,1.1,1.18,1.26,1.35,1.46,1.15],
[671347,1.02,1.09,1.17,1.25,1.34,1.45,1.21],
[671349,1.03,1.1,1.18,1.26,1.35,1.47,1.14],
[671351,1.02,1.09,1.17,1.25,1.34,1.45,1.2],
[671353,1.03,1.1,1.18,1.26,1.35,1.46,1.13],
[671355,1.02,1.09,1.17,1.25,1.34,1.45,1.22],
[671357,1.01,1.08,1.16,1.24,1.33,1.44,1.12],
[671359,1.02,1.09,1.17,1.25,1.34,1.46,1.2],
[671361,1.01,1.08,1.16,1.24,1.33,1.44,1.13],
[671363,1.02,1.09,1.17,1.25,1.35,1.47,1.21],
[671365,1.03,1.1,1.18,1.26,1.36,1.48,1.14],
[671367,1.02,1.09,1.17,1.25,1.35,1.47,1.22],
[671369,1.03,1.1,1.18,1.27,1.37,1.5,1.15],
[671371,1.02,1.1,1.18,1.27,1.37,1.5,1.23],
[671373,1.03,1.11,1.19,1.28,1.38,1.52,1.16],
[671375,1.04,1.12,1.2,1.29,1.39,1.53,1.24],
[671377,1.05,1.13,1.21,1.3,1.4,1.55,1.18]
];
const greenRowsEven = [
[670864,2.05,2.3,2.5,2.75,3.05,1.8],
[670866,2,2.2,2.45,2.6,2.85,3.5],
[670868,2.1,2.25,2.5,2.7,3,1.9],
[670870,1.85,2.05,2.3,2.45,2.65,3],
[670872,2.05,2.25,2.45,2.7,2.95,3.3],
[670874,1.95,2.15,2.35,2.55,2.75,3.1],
[670876,2.1,2.3,2.5,2.7,3.05,4.3],
[670878,2,2.25,2.45,2.65,2.85,3.15],
[670880,2.1,2.35,2.6,2.85,3.2,1.95],
[670882,2.2,2.45,2.7,2.95,3.3,3.9],
[670884,2.15,2.4,2.7,3,3.35,2],
[670886,2.2,2.5,2.75,3.05,3.4,3.8],
[670888,2.05,2.35,2.65,2.9,3.2,3.7],
[670890,2.1,2.35,2.6,2.85,3.15,1.9],
[670892,2,2.3,2.5,2.8,3.05,3.5],
[670894,2,2.2,2.4,2.65,2.95,1.8],
[670896,1.95,2.15,2.35,2.6,2.85,3.3],
[670898,1.9,2.1,2.3,2.5,2.75,1.75],
[670900,1.8,2,2.2,2.4,2.65,3.1],
[670902,1.7,1.88,2.1,2.3,2.55,1.6],
[670904,1.6,1.75,1.92,2.1,2.3,2.7],
[670906,1.5,1.65,1.8,1.97,2.15,2.45],
[670908,1.4,1.52,1.68,1.83,2,2.25],
[670910,1.3,1.4,1.53,1.68,1.85,1.22],
[670912,1.2,1.3,1.42,1.52,1.65,1.12],
[670914,1.17,1.25,1.34,1.42,1.52,1.08],
[670916,1.14,1.22,1.3,1.4,1.48,1.62],
[670918,1.12,1.21,1.29,1.37,1.46,1.05],
[670920,1.15,1.23,1.31,1.39,1.49,1.6],
[670922,1.1,1.19,1.29,1.37,1.47,1.07],
[670924,1.13,1.21,1.28,1.36,1.44,1.55],
[670926,1.09,1.17,1.27,1.35,1.41,1.04],
[670928,1.14,1.22,1.31,1.39,1.5,1.62],
[670930,1.15,1.23,1.32,1.4,1.51,1.08],
[670932,1.12,1.2,1.31,1.42,1.52,1.65],
[670934,1.16,1.24,1.33,1.43,1.55,1.09],
[670936,1.14,1.25,1.35,1.45,1.6,1.74],
[670938,1.2,1.3,1.4,1.52,1.66,1.13],
[670940,1.22,1.31,1.41,1.53,1.66,1.85],
[670942,1.3,1.4,1.52,1.65,1.8,2],
[670944,1.4,1.52,1.66,1.82,1.98,2.22],
[670946,1.5,1.65,1.8,1.95,2.15,2.42],
[670948,1.6,1.78,1.92,2.1,2.3,2.6],
[670950,1.75,1.95,2.12,2.32,2.55,2.9],
[670952,1.62,1.8,1.97,2.15,2.35,2.58],
[670954,1.78,1.95,2.15,2.38,2.6,2.95],
[670956,1.65,1.82,2.05,2.25,2.5,3.5],
[670958,1.75,1.93,2.12,2.35,2.6,2.95],
[670960,1.6,1.78,1.95,2.15,2.35,2.62],
[670962,1.75,1.95,2.12,2.32,2.58,3.25],
[670964,1.62,1.8,1.97,2.16,2.35,2.6],
[670966,1.72,1.92,2.1,2.3,2.55,2.88],
[670968,1.62,1.8,1.98,2.18,2.38,2.62],
[670970,1.75,1.93,2.12,2.32,2.55,2.92],
[670972,1.58,1.75,1.92,2.1,2.28,2.55],
[670974,1.68,1.85,2.05,2.22,2.45,2.8],
[670976,1.55,1.7,1.88,2.05,2.25,2.48],
[670978,1.6,1.75,1.9,2.08,2.3,1.5],
[670980,1.52,1.68,1.83,2,2.2,2.5],
[670982,1.48,1.62,1.78,1.95,2.12,1.4],
[670984,1.45,1.58,1.72,1.88,2.05,2.3],
[670986,1.38,1.5,1.63,1.78,1.95,1.3],
[670988,1.33,1.45,1.58,1.72,1.87,2.05],
[670990,1.28,1.4,1.52,1.66,1.8,1.2],
[670992,1.22,1.32,1.44,1.56,1.7,1.86],
[670994,1.2,1.3,1.4,1.5,1.62,1.12],
[670996,1.19,1.29,1.39,1.49,1.6,1.75],
[670998,1.18,1.28,1.37,1.47,1.58,1.1],
[671000,1.17,1.26,1.36,1.46,1.57,1.72],
[671002,1.16,1.26,1.35,1.45,1.56,1.09],
[671004,1.18,1.28,1.38,1.48,1.6,1.74],
[671006,1.15,1.25,1.34,1.44,1.55,1.1],
[671008,1.19,1.29,1.39,1.49,1.6,1.75],
[671010,1.17,1.27,1.36,1.46,1.57,1.08],
[671012,1.18,1.27,1.37,1.47,1.58,1.73],
[671014,1.16,1.26,1.36,1.46,1.57,1.09],
[671016,1.18,1.28,1.38,1.48,1.6,1.76],
[671018,1.16,1.26,1.36,1.46,1.58,1.08],
[671020,1.2,1.3,1.4,1.51,1.63,1.8],
[671022,1.23,1.34,1.45,1.57,1.7,1.12],
[671024,1.28,1.4,1.52,1.65,1.8,2],
[671026,1.3,1.42,1.55,1.68,1.83,2.02],
[671028,1.4,1.52,1.66,1.8,1.97,2.2],
[671030,1.5,1.64,1.78,1.95,2.13,2.38],
[671032,1.62,1.78,1.93,2.1,2.3,2.55],
[671034,1.78,1.93,2.1,2.28,2.5,2.78],
[671036,1.92,2.08,2.28,2.48,2.7,3],
[671038,2.08,2.26,2.46,2.68,2.93,3.25],
[671040,2.2,2.4,2.62,2.85,3.12,3.5],
[671042,2.32,2.52,2.75,3,3.28,3.65],
[671044,2.55,2.78,3.02,3.3,3.65,4.1],
[671046,2.58,2.82,3.08,3.38,3.72,4.2],
[671048,2.6,2.85,3.1,3.38,3.75,4.3],
[671050,2.55,2.8,3.05,3.32,3.68,4.05],
[671052,2.52,2.75,3,3.28,3.6,4],
[671054,2.45,2.68,2.92,3.2,3.5,3.9],
[671056,2.38,2.6,2.85,3.1,3.4,3.75],
[671058,2.3,2.52,2.75,3,3.28,3.62],
[671060,2.22,2.42,2.64,2.88,3.15,3.5],
[671062,2.12,2.3,2.5,2.72,2.98,3.3],
[671064,2,2.18,2.36,2.56,2.8,3.08],
[671066,1.9,2.06,2.22,2.4,2.62,2.9],
[671068,1.8,1.95,2.1,2.27,2.46,2.72],
[671070,1.7,1.84,1.98,2.14,2.32,2.55],
[671072,1.6,1.73,1.86,2,2.17,2.38],
[671074,1.5,1.62,1.74,1.88,2.04,2.24],
[671076,1.4,1.5,1.62,1.75,1.9,2.1],
[671078,1.28,1.38,1.48,1.6,1.74,1.2],
[671080,1.22,1.32,1.42,1.53,1.66,1.84],
[671082,1.12,1.19,1.27,1.35,1.45,1.58],
[671084,1.1,1.18,1.25,1.34,1.43,1.03],
[671086,1.09,1.17,1.24,1.33,1.42,1.56],
[671088,1.1,1.18,1.26,1.35,1.45,1.02],
[671090,1.09,1.17,1.25,1.33,1.43,1.55],
[671092,1.08,1.16,1.23,1.32,1.41,1.02],
[671094,1.09,1.17,1.25,1.34,1.43,1.56],
[671096,1.08,1.15,1.23,1.31,1.41,1.01],
[671098,1.09,1.17,1.26,1.34,1.44,1.57],
[671100,1.08,1.16,1.24,1.33,1.43,1.02],
[671102,1.09,1.17,1.25,1.34,1.45,1.58],
[671104,1.1,1.18,1.27,1.36,1.47,1.03],
[671106,1.12,1.21,1.3,1.4,1.52,1.66],
[671108,1.16,1.26,1.36,1.47,1.59,1.08],
[671110,1.22,1.32,1.44,1.56,1.7,1.88],
[671112,1.25,1.36,1.48,1.62,1.77,1.95],
[671114,1.33,1.46,1.59,1.74,1.9,2.1],
[671116,1.43,1.57,1.71,1.87,2.05,2.28],
[671118,1.53,1.67,1.83,2,2.2,2.45],
[671120,1.62,1.78,1.95,2.13,2.34,2.6],
[671122,1.7,1.86,2.04,2.23,2.45,2.72],
[671124,1.8,1.98,2.18,2.4,2.65,3],
[671126,1.7,1.88,2.06,2.25,2.48,2.75],
[671128,1.82,2,2.2,2.42,2.68,3.05],
[671130,1.68,1.86,2.04,2.24,2.46,2.7],
[671132,1.76,1.95,2.14,2.35,2.6,2.95],
[671134,1.6,1.78,1.96,2.15,2.36,2.62],
[671136,1.72,1.9,2.1,2.3,2.55,2.9],
[671138,1.56,1.74,1.92,2.12,2.34,2.62],
[671140,1.7,1.88,2.08,2.3,2.56,2.92],
[671142,1.58,1.76,1.95,2.15,2.38,2.68],
[671144,1.75,1.95,2.16,2.4,2.68,3.05],
[671146,1.66,1.86,2.06,2.3,2.56,2.9],
[671148,1.9,2.12,2.36,2.62,2.92,3.3],
[671150,1.95,2.2,2.45,2.75,3.1,3.55],
[671152,2.05,2.32,2.62,2.95,3.35,3.85],
[671154,2.15,2.45,2.78,3.15,3.6,4.2],
[671156,2.3,2.65,3,3.45,3.95,4.6],
[671158,2.45,2.8,3.2,3.65,4.2,4.9],
[671160,1.6,1.9,2.2,2.6,3.1,3.7],
[671162,1.35,1.48,1.62,1.8,2,2.25],
[671164,1.25,1.35,1.45,1.56,1.68,1.85],
[671166,1.22,1.33,1.43,1.54,1.67,1.14],
[671168,1.21,1.31,1.42,1.53,1.65,1.8],
[671170,1.22,1.32,1.42,1.53,1.66,1.13],
[671172,1.2,1.3,1.41,1.52,1.64,1.78],
[671174,1.21,1.31,1.42,1.52,1.65,1.12],
[671176,1.2,1.3,1.4,1.51,1.63,1.79],
[671178,1.2,1.3,1.4,1.5,1.62,1.11],
[671180,1.19,1.29,1.39,1.49,1.61,1.76],
[671182,1.18,1.28,1.38,1.48,1.6,1.1],
[671184,1.18,1.28,1.38,1.48,1.6,1.75],
[671186,1.17,1.27,1.36,1.46,1.58,1.08],
[671188,1.15,1.25,1.35,1.45,1.57,1.72],
[671190,1.15,1.24,1.34,1.45,1.56,1.06],
[671192,1.16,1.26,1.36,1.47,1.59,1.74],
[671194,1.18,1.29,1.4,1.52,1.66,1.1],
[671196,1.18,1.3,1.42,1.55,1.7,1.88],
[671198,1.27,1.4,1.53,1.67,1.83,2.02],
[671200,1.38,1.52,1.67,1.83,2,2.22],
[671202,1.52,1.67,1.83,2,2.19,2.42],
[671204,1.63,1.8,1.97,2.15,2.36,2.62],
[671206,1.75,1.93,2.12,2.33,2.57,2.88],
[671208,1.64,1.82,2,2.2,2.42,2.68],
[671210,1.8,1.98,2.18,2.4,2.65,2.98],
[671212,1.65,1.82,2,2.2,2.42,2.7],
[671214,1.78,1.96,2.16,2.38,2.64,2.95],
[671216,1.62,1.8,1.98,2.18,2.4,2.68],
[671218,1.76,1.94,2.14,2.36,2.6,2.92],
[671220,1.58,1.75,1.93,2.12,2.34,2.6],
[671222,1.7,1.88,2.06,2.26,2.5,2.82],
[671224,1.55,1.72,1.88,2.06,2.27,2.52],
[671226,1.62,1.78,1.96,2.16,2.38,2.66],
[671228,1.5,1.65,1.82,1.99,2.18,2.42],
[671230,1.52,1.67,1.83,2,2.2,2.45],
[671232,1.46,1.6,1.76,1.92,2.1,2.34],
[671234,1.42,1.56,1.7,1.86,2.04,2.26],
[671236,1.38,1.51,1.65,1.8,1.97,2.18],
[671238,1.35,1.47,1.6,1.75,1.92,2.12],
[671240,1.3,1.42,1.55,1.69,1.85,2.04],
[671242,1.27,1.38,1.51,1.64,1.8,1.98],
[671244,1.24,1.35,1.47,1.6,1.75,1.92],
[671246,1.2,1.3,1.41,1.53,1.66,1.82],
[671248,1.17,1.26,1.36,1.46,1.58,1.08],
[671250,1.16,1.25,1.35,1.46,1.59,1.74],
[671252,1.17,1.26,1.36,1.47,1.58,1.07],
[671254,1.15,1.25,1.35,1.45,1.57,1.73],
[671256,1.16,1.26,1.36,1.46,1.58,1.08],
[671258,1.15,1.24,1.34,1.45,1.57,1.72],
[671260,1.16,1.25,1.35,1.45,1.57,1.07],
[671262,1.14,1.24,1.34,1.45,1.57,1.72],
[671264,1.16,1.26,1.36,1.46,1.58,1.08],
[671266,1.15,1.25,1.35,1.46,1.58,1.74],
[671268,1.16,1.25,1.35,1.45,1.57,1.07],
[671270,1.15,1.24,1.34,1.45,1.57,1.72],
[671272,1.16,1.26,1.36,1.46,1.58,1.08],
[671274,1.15,1.25,1.35,1.46,1.59,1.75],
[671276,1.17,1.27,1.37,1.48,1.6,1.09],
[671278,1.16,1.26,1.36,1.47,1.6,1.76],
[671280,1.17,1.27,1.38,1.49,1.61,1.09],
[671282,1.18,1.28,1.39,1.5,1.63,1.79],
[671284,1.19,1.3,1.41,1.52,1.65,1.1],
[671286,1.2,1.31,1.42,1.54,1.67,1.83],
[671288,1.22,1.33,1.44,1.56,1.7,1.12],
[671290,1.24,1.35,1.46,1.58,1.72,1.14],
[671292,1.23,1.34,1.46,1.59,1.73,1.9],
[671294,1.25,1.36,1.47,1.6,1.74,1.15],
[671296,1.24,1.35,1.47,1.6,1.75,1.92],
[671298,1.25,1.36,1.47,1.6,1.74,1.15],
[671300,1.24,1.35,1.47,1.59,1.74,1.9],
[671302,1.24,1.35,1.46,1.58,1.72,1.14],
[671304,1.23,1.34,1.46,1.58,1.72,1.89],
[671306,1.23,1.34,1.45,1.57,1.71,1.13],
[671308,1.22,1.33,1.44,1.56,1.7,1.87],
[671310,1.21,1.32,1.43,1.55,1.69,1.11],
[671312,1.2,1.31,1.42,1.54,1.68,1.85],
[671314,1.19,1.29,1.4,1.51,1.64,1.1],
[671316,1.17,1.27,1.37,1.49,1.62,1.08],
[671318,1.16,1.26,1.36,1.48,1.61,1.77],
[671320,1.16,1.26,1.36,1.47,1.6,1.07],
[671322,1.15,1.25,1.35,1.46,1.59,1.74],
[671324,1.15,1.24,1.34,1.45,1.58,1.06],
[671326,1.14,1.24,1.34,1.45,1.57,1.72],
[671328,1.14,1.23,1.33,1.44,1.56,1.05],
[671330,1.13,1.22,1.32,1.43,1.55,1.7],
[671332,1.12,1.21,1.31,1.42,1.53,1.04],
[671334,1.11,1.2,1.3,1.41,1.52,1.66],
[671336,1.1,1.18,1.27,1.37,1.48,1.03],
[671338,1.07,1.14,1.22,1.3,1.4,1.01],
[671340,1.06,1.13,1.21,1.3,1.4,1.52],
[671342,1.06,1.13,1.21,1.29,1.39,1.01],
[671344,1.07,1.14,1.22,1.31,1.41,1.53],
[671346,1.06,1.13,1.21,1.29,1.39,1],
[671348,1.05,1.12,1.2,1.29,1.39,1.5],
[671350,1.06,1.13,1.21,1.29,1.38,1],
[671352,1.05,1.12,1.2,1.28,1.38,1.5],
[671354,1.06,1.13,1.21,1.29,1.38,1.01],
[671356,1.05,1.12,1.2,1.28,1.38,1.5],
[671358,1.05,1.12,1.2,1.28,1.37,1],
[671360,1.05,1.12,1.2,1.29,1.39,1.51],
[671362,1.05,1.12,1.2,1.28,1.38,1],
[671364,1.06,1.13,1.21,1.3,1.4,1.52],
[671366,1.06,1.13,1.21,1.29,1.39,1.01],
[671368,1.06,1.13,1.21,1.3,1.4,1.53],
[671370,1.06,1.14,1.22,1.31,1.41,1.02],
[671372,1.07,1.15,1.23,1.32,1.43,1.56],
[671374,1.07,1.15,1.23,1.32,1.42,1.02],
[671376,1.08,1.16,1.24,1.34,1.45,1.6]
];
// isolated green points: [kiloseconds, nm]
const greenScatter = [
[670886.5,3.9],[670976.3,22.3],[670976.3,17.7],[670976.3,8.5],[670976.3,7.9],[670974.7,6.7],[670974.7,6.3],
[670975.5,6.2],[670975.5,5.9],[670970.6,5.9],[671013.4,5.8],[671038.9,5.6],[671063.9,12],[671063.9,5.5],
[671075.3,5.5],[671084.6,6.7],[671124.9,5.6],[671156.4,6.8],[671250.3,11.9],[671250.3,7.1],[671250.3,5.5],
[671250.3,4.5],[671233.2,9.5],[671233.2,7.1],[671233.2,6.5],[671233.2,5.1],[671233.2,4.2],[671272.1,8.8],
[671220.9,6],[671213.9,5.4],[671213.9,5.1],[671213.9,4.9],[671209.7,4.7],[671221,4.5],[671238.7,4.4],
[671158.3,7],[671153,5],[671301.5,4.2],[671301.5,3.5],[671334,3.4],[671343.6,2.86],[671351.3,3.3],
[671367.2,3.9],[671123.4,3.9],[671236.7,5.9],[671261.6,4.8]
];

// ---------------- drawing ----------------
const plot = {left: 190, right: 1708, top: 19.5, bottom: 1052};
const ink = "#231f20";
const svg = d3.select("#chart");

const x = d3.scaleLinear().domain(xDomain).range([plot.left, plot.right]);
const y = d3.scaleLog().domain(yDomain).range([plot.bottom, plot.top]);

function toPoints(rows) {
  const pts = [];
  rows.forEach(r => { r.slice(1).forEach(v => pts.push([r[0] * 1000, v * 1e-9])); });
  return pts;
}
const redPts = toPoints(redRows.concat(redScatter));
const greenPts = toPoints(greenRowsOdd.concat(greenRowsEven, greenScatter));

svg.append("defs").append("clipPath").attr("id", "plotclip")
  .append("rect").attr("x", plot.left).attr("y", plot.top)
  .attr("width", plot.right - plot.left).attr("height", plot.bottom - plot.top);

// grid
const grid = svg.append("g").attr("stroke", "#444").attr("stroke-width", 1.4)
  .attr("stroke-dasharray", "1.4,3.6").attr("fill", "none");
const keyBottom = 105;
grid.selectAll("line.gx").data(xGridValues).join("line").attr("class", "gx")
  .attr("x1", d => x(d)).attr("x2", d => x(d))
  .attr("y1", keyBottom).attr("y2", plot.bottom - 15);
grid.selectAll("line.gy").data(yGridValues).join("line").attr("class", "gy")
  .attr("y1", d => y(d)).attr("y2", d => y(d))
  .attr("x1", plot.left + 15).attr("x2", plot.right - 15);

// data
const dotR = 2.8;
const dataG = svg.append("g").attr("clip-path", "url(#plotclip)");
dataG.append("g").selectAll("circle").data(redPts).join("circle")
  .attr("cx", d => x(d[0])).attr("cy", d => y(d[1])).attr("r", dotR).attr("fill", seriesColors[0]);
dataG.append("g").selectAll("circle").data(greenPts).join("circle")
  .attr("cx", d => x(d[0])).attr("cy", d => y(d[1])).attr("r", dotR).attr("fill", seriesColors[1]);

// frame + ticks
const axisG = svg.append("g").attr("stroke", ink).attr("stroke-width", 2.4).attr("fill", "none");
axisG.append("rect").attr("x", plot.left).attr("y", plot.top)
  .attr("width", plot.right - plot.left).attr("height", plot.bottom - plot.top);
const majorLen = 15, minorLen = 8;
xTickValues.forEach(v => {
  axisG.append("line").attr("x1", x(v)).attr("x2", x(v)).attr("y1", plot.bottom).attr("y2", plot.bottom - majorLen);
  axisG.append("line").attr("x1", x(v)).attr("x2", x(v)).attr("y1", plot.top).attr("y2", plot.top + majorLen);
});
const yMinor = [];
yTickValues.slice(0, -1).forEach(d => { for (let m = 2; m <= 9; m++) yMinor.push(d * m); });
yTickValues.forEach(v => {
  axisG.append("line").attr("x1", plot.left).attr("x2", plot.left + majorLen).attr("y1", y(v)).attr("y2", y(v));
  axisG.append("line").attr("x1", plot.right).attr("x2", plot.right - majorLen).attr("y1", y(v)).attr("y2", y(v));
});
yMinor.forEach(v => {
  axisG.append("line").attr("x1", plot.left).attr("x2", plot.left + minorLen).attr("y1", y(v)).attr("y2", y(v));
  axisG.append("line").attr("x1", plot.right).attr("x2", plot.right - minorLen).attr("y1", y(v)).attr("y2", y(v));
});

// tick labels
const fs = 31;
svg.append("g").selectAll("text").data(xTickValues).join("text")
  .attr("x", d => x(d) - 6).attr("y", 1098).attr("text-anchor", "middle")
  .attr("font-size", fs).text((d, i) => xTickLabels[i]);
svg.append("g").selectAll("text").data(yTickValues).join("text")
  .attr("x", 161).attr("y", d => y(d)).attr("dy", "0.37em").attr("text-anchor", "end")
  .attr("font-size", fs).text((d, i) => yTickLabels[i]);

// axis labels
svg.append("text").attr("x", 934).attr("y", 1147).attr("text-anchor", "middle")
  .attr("font-size", fs).text(xLabel);
const yl = svg.append("text").attr("transform", "translate(42,752) rotate(-90)")
  .attr("text-anchor", "start").attr("font-size", fs);
yl.append("tspan").text(yLabel);
yl.append("tspan").attr("dx", 28).text(yLabelClose);

// legend
const legendY = [53, 87];
const legendRight = [1470, 1454];
const legendLeft = [579, 422];
seriesNames.forEach((name, i) => {
  const t = svg.append("text").attr("x", legendRight[i]).attr("y", legendY[i]).attr("dy", "0.36em")
    .attr("text-anchor", "end").attr("font-size", 28).style("fill", seriesColors[i]).text(name);
  const w = t.node().getComputedTextLength();
  t.attr("font-size", 28 * (legendRight[i] - legendLeft[i]) / w);
  svg.append("circle").attr("cx", 1617).attr("cy", legendY[i]).attr("r", 1.8).attr("fill", seriesColors[i]);
});

// page annotations
svg.append("text").attr("x", 32).attr("y", 1156).attr("font-size", 24)
  .style("font-family", "'Liberation Serif','Times New Roman',serif").text(docId);
svg.append("text").attr("x", 1783).attr("y", 1125).attr("text-anchor", "middle").attr("font-size", 19)
  .style("font-family", "'Liberation Serif','Times New Roman',serif").text(pageNo);
</script>
</body></html>
